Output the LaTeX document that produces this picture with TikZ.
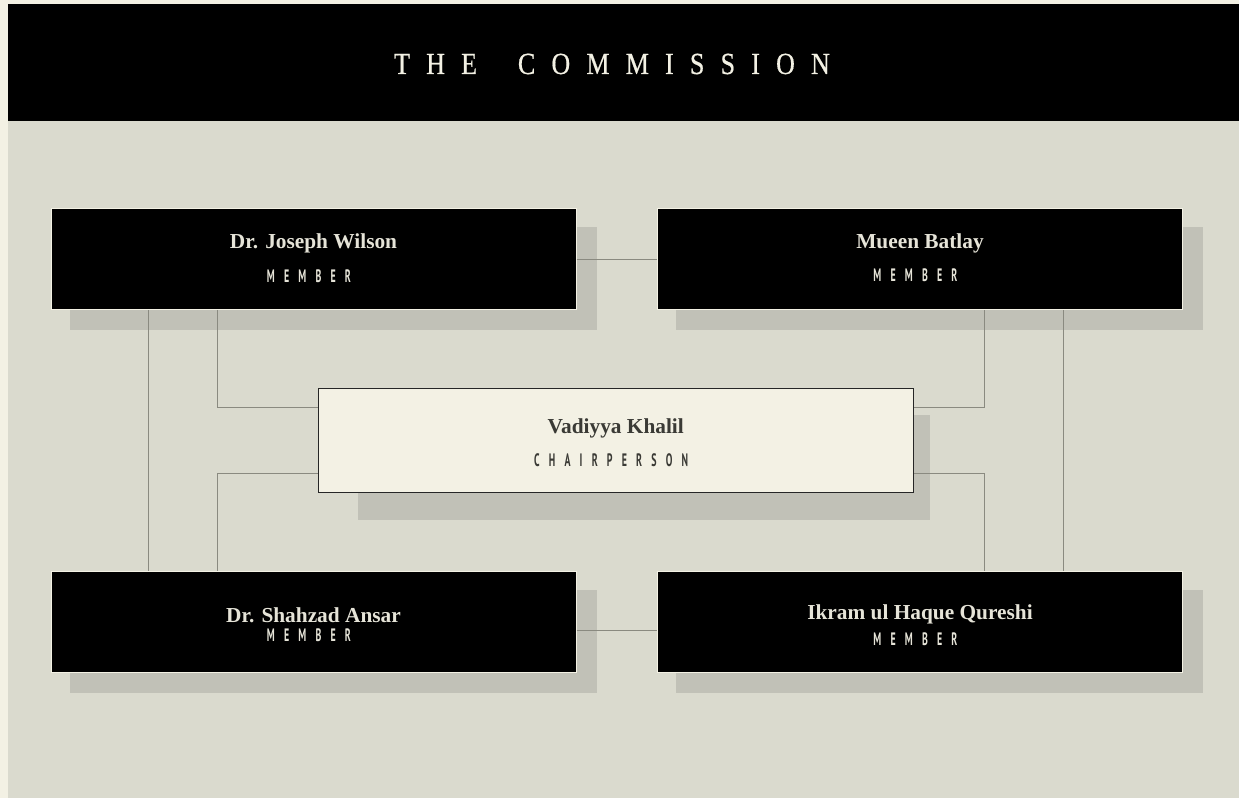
\documentclass[tikz,border=0pt]{standalone}
\usepackage{fontspec}
\usepackage{graphicx}
\usepackage{xcolor}
\usetikzlibrary{backgrounds}

\definecolor{pagecream}{HTML}{F3F1E4}
\definecolor{canvas}{HTML}{DADACE}
\definecolor{shadowgray}{HTML}{C1C1B7}
\definecolor{linkgray}{HTML}{8A8A80}
\definecolor{paletext}{HTML}{E6E4D8}
\definecolor{inkdark}{HTML}{3A3A35}

\newfontfamily\namefont{Liberation Serif}
\newfontfamily\rolefont[LetterSpace=93]{PT Sans}
\newfontfamily\titlefont[LetterSpace=62,WordSpace=1.8,FakeBold=0.6]{Liberation Serif}

\newcommand\roletext[1]{\scalebox{0.55}[1]{\rolefont\bfseries\fontsize{13.5}{16}\selectfont #1\kern0.93em}}

\tikzset{
  member/.style={fill=black,draw=pagecream,line width=0.75pt,
    minimum width=393.75pt,minimum height=75.75pt,inner sep=0pt},
  chairbox/.style={fill=pagecream,draw=black!85,line width=0.75pt,
    minimum width=446.6pt,minimum height=77.25pt,inner sep=0pt},
  nametext/.style={anchor=base,inner sep=0pt,
    font=\namefont\bfseries\fontsize{16}{19}\selectfont},
  rolelabel/.style={anchor=base,inner sep=0pt},
  titletext/.style={anchor=base,inner sep=0pt,text=pagecream,
    font=\titlefont\fontsize{23}{27}\selectfont},
  connector/.style={draw=linkgray,line width=0.75pt},
  boxshadow/.style={fill=shadowgray}
}

\begin{document}
\begin{tikzpicture}[x=0.75pt,y=-0.75pt]
  \foreach \id/\cx/\cy in {jw/313.5/259.5,mb/920/259.5,sa/313.5/621.5,iq/920/621.5}
    \node[member] (\id) at (\cx,\cy) {};
  \node[chairbox] (chair) at (615.75,440.5) {};

  \node[titletext] (title) at (612,74) {\scalebox{0.85}[1]{THE COMMISSION}};

  \foreach \id/\cx/\ny/\ry/\who in {
    jw/313.5/249/283/Dr. Joseph Wilson,
    mb/920/249/282/Mueen Batlay,
    sa/313.5/622/641/Dr. Shahzad Ansar,
    iq/920/619/645/Ikram ul Haque Qureshi}
  {
    \node[nametext,text=paletext] (\id-name) at (\cx,\ny) {\who};
    \node[rolelabel,text=paletext] (\id-role) at (\cx,\ry) {\roletext{MEMBER}};
  }
  \node[nametext,text=inkdark] (chair-name) at (615.75,434) {Vadiyya Khalil};
  \node[rolelabel,text=inkdark] (chair-role) at (615.75,467) {\roletext{CHAIRPERSON}};

  \begin{scope}[on background layer]
    \fill[pagecream] (0,0) rectangle (1239,798);
    \fill[canvas] (8,121) rectangle (1239,798);
    \fill[black] (8,4) rectangle (1239,121);
    \foreach \id in {jw,mb,sa,iq}
      \fill[boxshadow] ([shift={(19,19)}]\id.north west) rectangle ([shift={(20,20)}]\id.south east);
    \fill[boxshadow] ([shift={(40,27)}]chair.north west) rectangle ([shift={(16,27)}]chair.south east);
  \end{scope}

  \draw[connector] (jw.east) -- (mb.west);
  \draw[connector] ([shift={(0,9)}]sa.east) -- ([shift={(0,9)}]iq.west);
  \draw[connector] ([shift={(98,0)}]jw.south west) -- ([shift={(98,0)}]sa.north west);
  \draw[connector] ([shift={(-120,0)}]mb.south east) -- ([shift={(-120,0)}]iq.north east);
  \draw[connector] ([shift={(167,0)}]jw.south west) |- ([shift={(0,19)}]chair.north west);
  \draw[connector] ([shift={(167,0)}]sa.north west) |- ([shift={(0,-19)}]chair.south west);
  \draw[connector] ([shift={(-199,0)}]mb.south east) |- ([shift={(0,19)}]chair.north east);
  \draw[connector] ([shift={(-199,0)}]iq.north east) |- ([shift={(0,-19)}]chair.south east);
\end{tikzpicture}
\end{document}
